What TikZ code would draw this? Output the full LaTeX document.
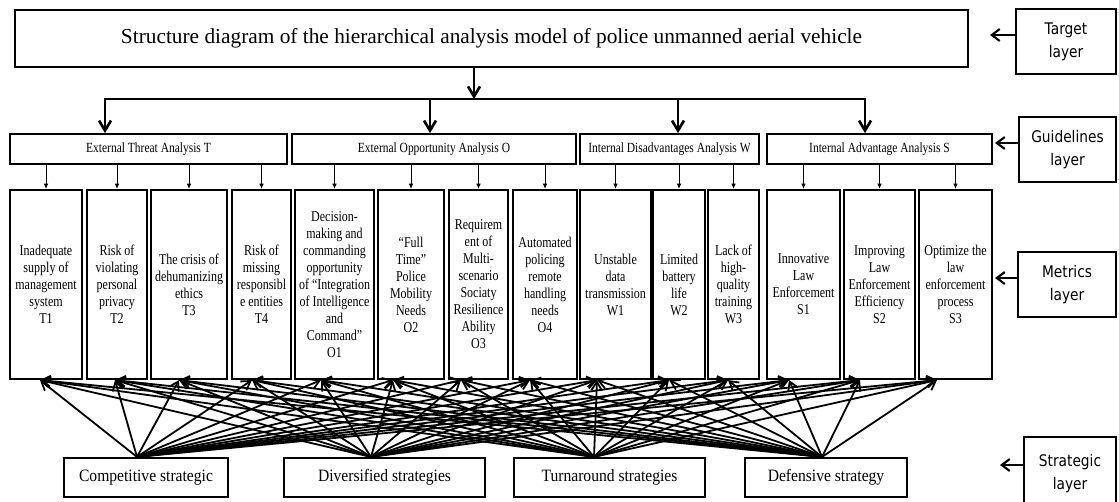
\documentclass[tikz,border=0pt]{standalone}
\usepackage{fontspec}
\setmainfont{Liberation Serif}
\newfontfamily\metfont[FakeStretch=0.8]{Liberation Serif}
\newfontfamily\guifont[FakeStretch=0.82]{Liberation Serif}
\newfontfamily\strfont[FakeStretch=0.9]{Liberation Serif}
\newfontfamily\layfont[FakeStretch=0.86]{DejaVu Sans}
\usetikzlibrary{arrows.meta}
\begin{document}
\begin{tikzpicture}[x=0.75pt,y=-0.75pt,
  topbox/.style={draw, line width=1.9pt, inner sep=0pt, align=center,
    font=\fontsize{16}{19}\selectfont},
  guide/.style={draw, line width=1.3pt, inner sep=0pt, minimum height=30*0.75pt,
    align=center, font=\guifont\fontsize{10.5}{12}\selectfont},
  metric/.style={draw, line width=1.6pt, inner sep=0pt, minimum height=189*0.75pt,
    align=center, font=\metfont\fontsize{11.25}{12.75}\selectfont},
  strat/.style={draw, line width=1.6pt, inner sep=0pt, minimum height=39*0.75pt,
    align=center, font=\strfont\fontsize{13}{15}\selectfont},
  layer/.style={draw, line width=1.6pt, inner sep=0pt, align=center,
    font=\layfont\fontsize{12}{17.25}\selectfont},
  marrow/.style={line width=2pt, -{Straight Barb[length=7.5pt,width=9pt,line width=2pt]}},
  garrow/.style={line width=0.7pt, -{Latex[length=4pt,width=3.5pt]}},
  sarrow/.style={line width=1.35pt, -{Straight Barb[length=6.5pt,width=8pt,line width=1.35pt]}},
  larrow/.style={line width=1.6pt, -{Straight Barb[length=6pt,width=9pt,line width=1.6pt]}}
]
\clip (0,0) rectangle (1119,501);
\fill[white] (0,0) rectangle (1119,501);

% target layer
\node[topbox, minimum width=953*0.75pt, minimum height=57*0.75pt] (top) at (491.5,38.5)
  {Structure diagram of the hierarchical analysis model of police unmanned aerial vehicle};

% guideline boxes
\node[guide, minimum width=277*0.75pt] (gT) at (148.5,149) {External Threat Analysis T};
\node[guide, minimum width=284*0.75pt] (gO) at (434,149) {External Opportunity Analysis O};
\node[guide, minimum width=179*0.75pt] (gW) at (669.5,149) {Internal Disadvantages Analysis W};
\node[guide, minimum width=225*0.75pt] (gS) at (879.5,149) {Internal Advantage Analysis S};

% metric boxes
\node[metric, minimum width=72*0.75pt] (T1) at (46,284.5) {Inadequate\\supply of\\management\\system\\T1};
\node[metric, minimum width=60*0.75pt] (T2) at (117,284.5) {Risk of\\violating\\personal\\privacy\\T2};
\node[metric, minimum width=76*0.75pt] (T3) at (189,284.5) {The crisis of\\dehumanizing\\ethics\\T3};
\node[metric, minimum width=59*0.75pt] (T4) at (261.5,284.5) {Risk of\\missing\\responsibl\\e entities\\T4};
\node[metric, minimum width=79*0.75pt] (O1) at (334.5,284.5) {Decision-\\making and\\commanding\\opportunity\\of “Integration\\of Intelligence\\and\\Command”\\O1};
\node[metric, minimum width=66*0.75pt] (O2) at (411,284.5) {“Full\\Time”\\Police\\Mobility\\Needs\\O2};
\node[metric, minimum width=59*0.75pt] (O3) at (478.5,284.5) {Requirem\\ent of\\Multi-\\scenario\\Sociaty\\Resilience\\Ability\\O3};
\node[metric, minimum width=64*0.75pt] (O4) at (545,284.5) {Automated\\policing\\remote\\handling\\needs\\O4};
\node[metric, minimum width=71*0.75pt] (W1) at (615.5,284.5) {Unstable\\data\\transmission\\W1};
\node[metric, minimum width=52*0.75pt] (W2) at (679,284.5) {Limited\\battery\\life\\W2};
\node[metric, minimum width=51*0.75pt] (W3) at (733.5,284.5) {Lack of\\high-\\quality\\training\\W3};
\node[metric, minimum width=73*0.75pt] (S1) at (803.5,284.5) {Innovative\\Law\\Enforcement\\S1};
\node[metric, minimum width=71*0.75pt] (S2) at (879.5,284.5) {Improving\\Law\\Enforcement\\Efficiency\\S2};
\node[metric, minimum width=73*0.75pt] (S3) at (955.5,284.5) {Optimize the\\law\\enforcement\\process\\S3};

% strategy boxes
\node[strat, minimum width=164*0.75pt] (cs) at (146,477.5) {Competitive strategic};
\node[strat, minimum width=201*0.75pt] (ds) at (384.5,477.5) {Diversified strategies};
\node[strat, minimum width=191*0.75pt] (ts) at (609.5,477.5) {Turnaround strategies};
\node[strat, minimum width=162*0.75pt] (df) at (826,477.5) {Defensive strategy};

% layer labels
\node[layer, minimum width=100*0.75pt, minimum height=65*0.75pt] (lT) at (1066,41.5) {Target\\layer};
\node[layer, minimum width=97*0.75pt, minimum height=65*0.75pt] (lG) at (1067.5,149.5) {Guidelines\\layer};
\node[layer, minimum width=98*0.75pt, minimum height=65*0.75pt] (lM) at (1067,284.5) {Metrics\\layer};
\node[layer, minimum width=92*0.75pt, minimum height=73*0.75pt] (lS) at (1070,473.5) {Strategic\\layer};

\coordinate (eT) at (990,35);
\coordinate (eG) at (995,143);
\coordinate (eM) at (995,278);
\coordinate (eS) at (1000,465);
\draw[larrow] (lT.west |- eT) -- (eT);
\draw[larrow] (lG.west |- eG) -- (eG);
\draw[larrow] (lM.west |- eM) -- (eM);
\draw[larrow] (lS.west |- eS) -- (eS);

% top to guidelines
\coordinate (j) at (474,99);
\coordinate (bT) at (105,99);
\coordinate (bO) at (430,99);
\coordinate (bW) at (678,99);
\coordinate (bS) at (865,99);
\draw[marrow] (top.south -| j) -- (j);
\draw[marrow] (bO) -- (bT) -- (bT |- gT.north);
\draw[marrow] (bO) -- (bS) -- (bS |- gS.north);
\draw[marrow] (bO) -- (bO |- gO.north);
\draw[marrow] (bW) -- (bW |- gW.north);

% guidelines to metrics
\foreach \m in {T1,T2,T3,T4} \draw[garrow] (\m.north |- gT.south) -- (\m.north);
\foreach \m in {O1,O2,O3,O4} \draw[garrow] (\m.north |- gO.south) -- (\m.north);
\foreach \m in {W1,W2,W3} \draw[garrow] (\m.north |- gW.south) -- (\m.north);
\foreach \m in {S1,S2,S3} \draw[garrow] (\m.north |- gS.south) -- (\m.north);

% strategy apexes
\coordinate (acs) at ([xshift=-9*0.75pt]cs.north);
\coordinate (ads) at ([xshift=-13.5*0.75pt]ds.north);
\coordinate (ats) at ([xshift=-15.5*0.75pt]ts.north);
\coordinate (adf) at ([xshift=-4*0.75pt]df.north);

% arrow tips on metric boxes
\foreach \m/\o in {T1/-6,T2/-2,T3/-10,T4/-9.5,O1/-13.5,O2/-18,O3/-17.5,O4/-15,
                   W1/-18.5,W2/-10,W3/-5.5,S1/-14.5,S2/-19.5,S3/-18.5}
  \coordinate (t\m) at ([xshift=\o*0.75pt]\m.south);

\foreach \s in {cs,ds,ts,df}
  \foreach \m in {T1,T2,T3,T4,O1,O2,O3,O4,W1,W2,W3,S1,S2,S3}
    \draw[sarrow] (a\s) -- (t\m);
\end{tikzpicture}
\end{document}
